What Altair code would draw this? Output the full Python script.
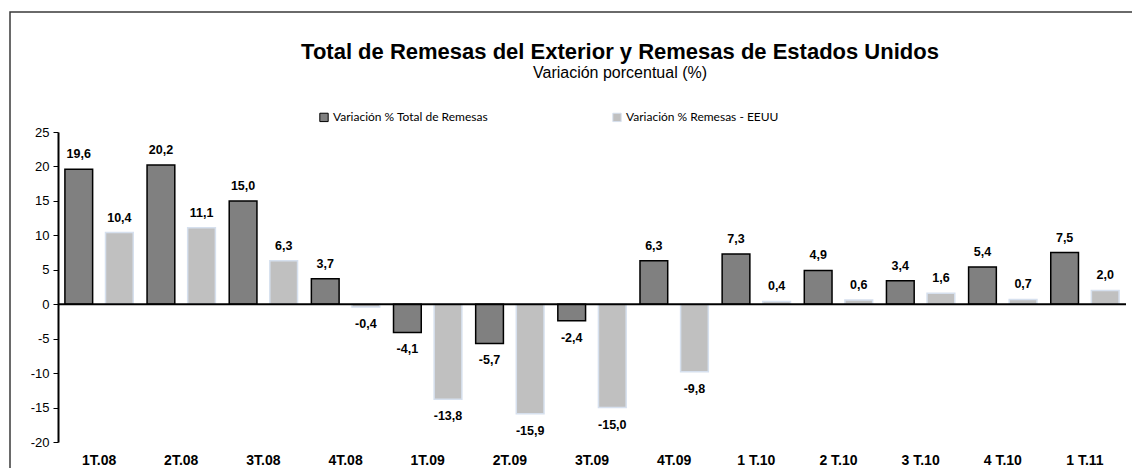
import altair as alt
import pandas as pd

categories = ["1T.08", "2T.08", "3T.08", "4T.08", "1T.09", "2T.09", "3T.09", "4T.09",
              "1 T.10", "2 T.10", "3 T.10", "4 T.10", "1 T.11"]
total = [19.6, 20.2, 15.0, 3.7, -4.1, -5.7, -2.4, 6.3, 7.3, 4.9, 3.4, 5.4, 7.5]
eeuu = [10.4, 11.1, 6.3, -0.4, -13.8, -15.9, -15.0, -9.8, 0.4, 0.6, 1.6, 0.7, 2.0]
series_names = ["Variación % Total  de Remesas", "Variación % Remesas - EEUU"]
y_ticks = [-20, -15, -10, -5, 0, 5, 10, 15, 20, 25]
title_text = "Total de Remesas del Exterior  y Remesas de Estados Unidos"
subtitle_text = "Variación porcentual (%)"

rows = []
for c, a, b in zip(categories, total, eeuu):
    rows.append({"cat": c, "serie": series_names[0], "v": a})
    rows.append({"cat": c, "serie": series_names[1], "v": b})
df = pd.DataFrame(rows)
df["lbl"] = df["v"].map(lambda v: f"{v:.1f}".replace(".", ","))

FONT = "Liberation Sans"

x = alt.X("cat:N", sort=categories,
          scale=alt.Scale(paddingInner=0, paddingOuter=0),
          axis=alt.Axis(title=None, orient="bottom", domain=False, ticks=False, labelAngle=0,
                        labelFont=FONT, labelFontWeight="bold", labelFontSize=14,
                        labelColor="black", labelPadding=11))
xo = alt.XOffset("serie:N", sort=series_names,
                 scale=alt.Scale(domain=series_names, paddingInner=0.317, paddingOuter=0.17))
y_scale = alt.Scale(domain=[-20, 25], nice=False, zero=False)
y_axis = alt.Axis(values=y_ticks, title=None, grid=False, domainColor="black",
                  domainWidth=2, tickColor="black", tickSize=5, tickWidth=1,
                  labelOverlap=False, labelFont=FONT, labelFontSize=13,
                  labelExpr="replace(datum.label, '\u2212', '-')",
                  labelColor="black", labelPadding=4)
y = alt.Y("v:Q", scale=y_scale, axis=y_axis)

legend_cfg = dict(orient="none", legendX=260, legendY=-21, direction="horizontal",
                  symbolType="square", symbolSize=70, symbolStrokeWidth=1,
                  labelFont="Lato", labelFontSize=12, labelColor="black",
                  columnPadding=118, title=None, labelOffset=3, labelLimit=300)

base = alt.Chart(df)

bars = base.mark_bar(strokeWidth=1.5).encode(
    x=x, xOffset=xo, y=y,
    fill=alt.Fill("serie:N", sort=series_names,
                  scale=alt.Scale(domain=series_names, range=["#808080", "#C0C0C0"]),
                  legend=alt.Legend(**legend_cfg)),
    stroke=alt.Stroke("serie:N", sort=series_names,
                      scale=alt.Scale(domain=series_names, range=["#000000", "#D6E0EE"]),
                      legend=alt.Legend(**legend_cfg)),
)

lbl_pos = base.transform_filter("datum.v >= 0").mark_text(
    font=FONT, fontWeight="bold", fontSize=12.5, color="black", baseline="middle", dy=-15
).encode(x=x, xOffset=xo, y=y, text="lbl:N")

lbl_neg = base.transform_filter("datum.v < 0").mark_text(
    font=FONT, fontWeight="bold", fontSize=12.5, color="black", baseline="middle", dy=17
).encode(x=x, xOffset=xo, y=y, text="lbl:N")

one = alt.Chart(pd.DataFrame({"a": [0]}))

zero_rule = one.mark_rule(color="black", strokeWidth=2).encode(
    y=alt.YDatum(0, scale=y_scale, axis=y_axis))

frame = one.mark_rect(filled=False, stroke="#3a3a3a", strokeWidth=1.5).encode(
    x=alt.value(-48), x2=alt.value(1130), y=alt.value(-120), y2=alt.value(520))

title = one.mark_text(font=FONT, fontWeight="bold", fontSize=22, color="black",
                      baseline="alphabetic", align="center").encode(
    x=alt.value(562), y=alt.value(-73), text=alt.value(title_text))
subtitle = one.mark_text(font=FONT, fontSize=16, color="black",
                         baseline="alphabetic", align="center").encode(
    x=alt.value(562), y=alt.value(-54), text=alt.value(subtitle_text))

chart = alt.layer(frame, bars, zero_rule, lbl_pos, lbl_neg, title, subtitle).properties(
    width=1068, height=310,
    autosize=alt.AutoSizeParams(type="none"),
    padding={"left": 50, "top": 124, "right": 6, "bottom": 26},
    background="white",
).configure_view(stroke=None)

chart.save("out.html", embed_options={"renderer": "svg", "actions": False})
